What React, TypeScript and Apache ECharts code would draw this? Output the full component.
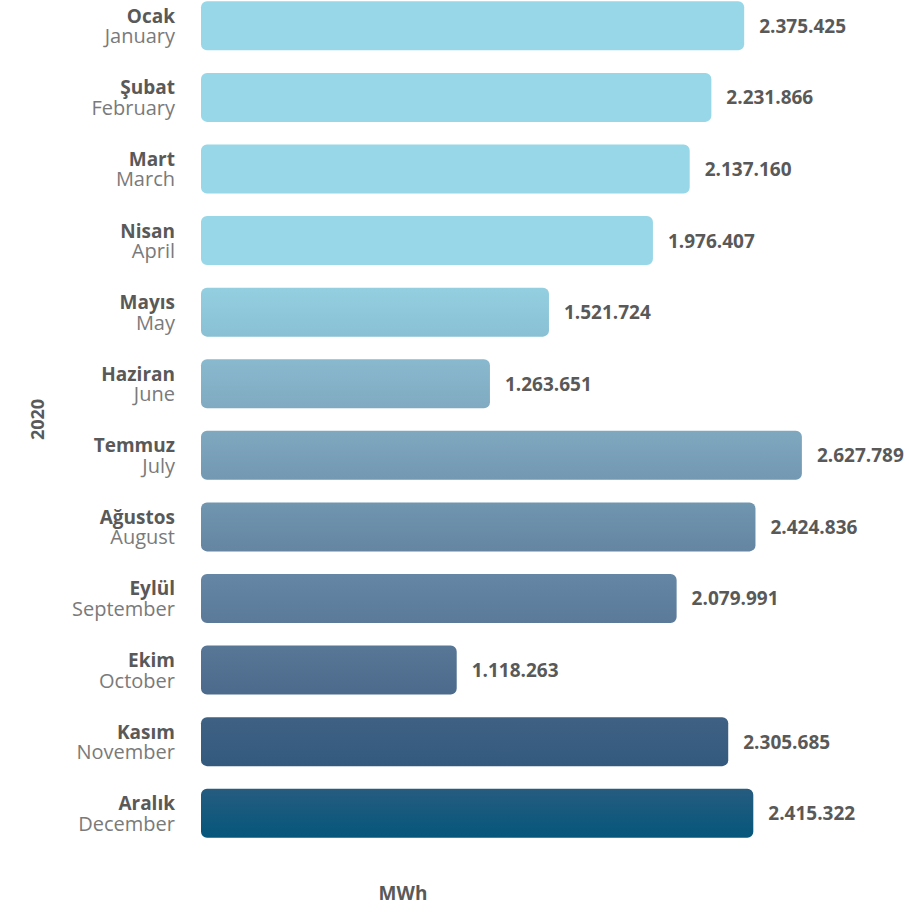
import React, { useEffect, useRef } from "react";
import * as echarts from "echarts";

const monthsTr = ["Ocak", "Şubat", "Mart", "Nisan", "Mayıs", "Haziran", "Temmuz", "Ağustos", "Eylül", "Ekim", "Kasım", "Aralık"];
const monthsEn = ["January", "February", "March", "April", "May", "June", "July", "August", "September", "October", "November", "December"];
const values = [2375425, 2231866, 2137160, 1976407, 1521724, 1263651, 2627789, 2424836, 2079991, 1118263, 2305685, 2415322];
const topColors = ["#98d7e8", "#98d7e8", "#98d7e8", "#98d7e8", "#93cfe0", "#89b9ce", "#7fa8bf", "#7096b0", "#6586a4", "#587797", "#3f6183", "#265c80"];
const bottomColors = ["#98d7e8", "#98d7e8", "#98d7e8", "#98d7e8", "#8ac0d4", "#80aac1", "#7398b2", "#6585a2", "#5b7a9a", "#4c6a8b", "#335a7e", "#05567b"];
const yearLabel = "2020";
const unitLabel = "MWh";

const FONT = "'Open Sans', 'Noto Sans', sans-serif";

function fmt(v: number): string {
  return String(v).replace(/\B(?=(\d{3})+(?!\d))/g, ".");
}

export default function App() {
  const ref = useRef<HTMLDivElement>(null);
  useEffect(() => {
    if (!ref.current) return;
    const chart = echarts.init(ref.current, null, { renderer: "svg" });
    const categories = monthsTr.map((t, i) => `${t}|${monthsEn[i]}`);
    chart.setOption({
      animation: false,
      backgroundColor: "#ffffff",
      grid: { left: 201, top: 0, width: 686, height: 859 },
      xAxis: {
        type: "value",
        min: 0,
        max: 3000000,
        show: false,
      },
      yAxis: {
        type: "category",
        inverse: true,
        data: categories,
        axisLine: { show: false },
        axisTick: { show: false },
        name: yearLabel,
        nameLocation: "middle",
        nameRotate: 90,
        nameGap: 155,
        nameTextStyle: { fontFamily: FONT, fontWeight: "bold", fontSize: 18, color: "#595959" },
        axisLabel: {
          margin: 26,
          align: "right",
          formatter: (val: string) => {
            const [a, b] = val.split("|");
            return `{a|${a}}\n{b|${b}}`;
          },
          rich: {
            a: { fontFamily: FONT, fontWeight: "bold", fontSize: 19, color: "#595959", lineHeight: 20, align: "right" },
            b: { fontFamily: FONT, fontSize: 20, color: "#7a7a7a", lineHeight: 20, align: "right" },
          },
        },
      },
      series: [
        {
          type: "bar",
          barWidth: 49,
          data: values.map((v, i) => ({
            value: v,
            itemStyle: {
              borderRadius: 6,
              color: new echarts.graphic.LinearGradient(0, 0, 0, 1, [
                { offset: 0, color: topColors[i] },
                { offset: 1, color: bottomColors[i] },
              ]),
            },
          })),
          label: {
            show: true,
            position: "right",
            distance: 15,
            formatter: (p: any) => fmt(p.value),
            fontFamily: FONT,
            fontWeight: "bold",
            fontSize: 19,
            color: "#595959",
          },
        },
      ],
      graphic: [
        {
          type: "text",
          x: 403,
          y: 903,
          style: {
            text: unitLabel,
            fontFamily: FONT,
            fontWeight: "bold",
            fontSize: 19,
            fill: "#595959",
            textAlign: "center",
            textVerticalAlign: "middle",
          },
        },
      ],
    });
    return () => chart.dispose();
  }, []);
  return <div ref={ref} style={{ position: "fixed", left: 0, top: -10, width: 909, height: 923 }} />;
}
